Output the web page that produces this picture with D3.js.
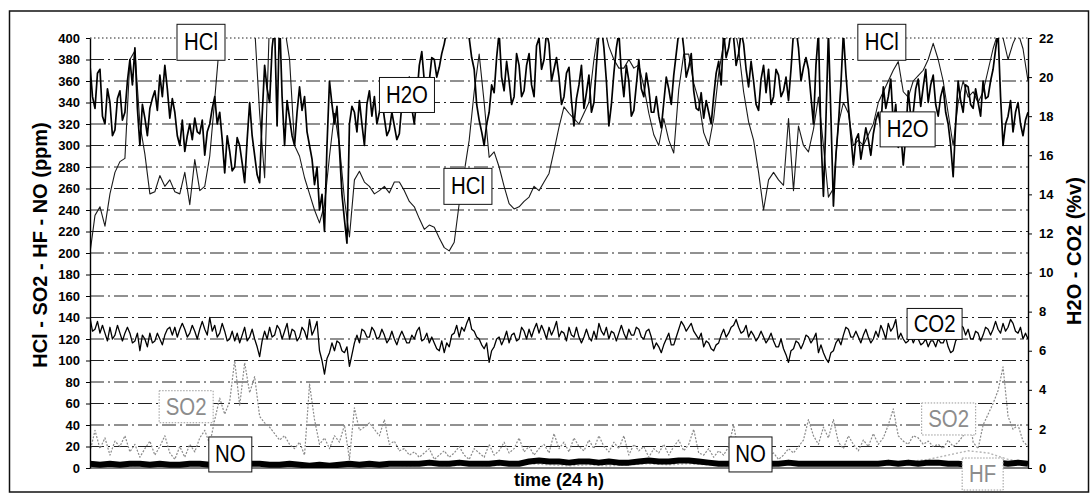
<!DOCTYPE html>
<html>
<head>
<meta charset="utf-8">
<script src="https://cdn.jsdelivr.net/npm/d3@7"></script>
<style>
  body { margin: 0; background: #fff; }
  text { font-family: 'Liberation Sans', Arial, sans-serif; }
</style>
</head>
<body>
<div id="chart"></div>
<script>
// values, evenly spaced over the 24 h
// H2O in %v (right axis)
const h2oValues = [
  20.6, 19.0, 18.4, 20.2, 20.4, 18.0, 17.6, 19.4, 18.7, 17.0,
  17.3, 18.9, 19.3, 17.8, 18.2, 19.8, 20.9, 19.6, 21.5, 18.4,
  16.5, 18.6, 17.9, 17.0, 18.4, 18.9, 19.3, 18.3, 20.1, 19.0,
  20.6, 19.4, 17.9, 18.9, 18.2, 17.0, 16.5, 17.8, 16.2, 17.0,
  17.6, 16.8, 17.9, 17.2, 17.1, 17.8, 16.0, 17.2, 17.6, 18.4,
  19.0, 17.6, 18.2, 16.8, 15.1, 17.0, 16.2, 15.2, 15.4, 16.9,
  16.5, 15.6, 14.6, 16.8, 18.7, 17.0, 16.0, 15.0, 14.6, 18.0,
  20.6, 19.4, 18.7, 21.5, 22.6, 17.5, 23.1, 19.0, 16.5, 18.8,
  17.9, 17.0, 16.5, 18.2, 19.5, 18.3, 19.0, 17.2, 16.5, 15.8,
  14.5, 15.4, 13.2, 14.0, 12.1, 16.5, 19.8, 18.6, 17.6, 18.5,
  16.3, 14.0, 12.7, 11.5, 17.6, 18.5, 18.2, 17.2, 18.8, 17.6,
  16.5, 18.6, 19.3, 18.0, 19.0, 17.6, 18.2, 18.9, 17.9, 17.0,
  17.3, 18.2, 17.5, 16.8, 17.1, 18.6, 19.8, 18.6, 20.0, 18.4,
  17.6, 19.0, 20.6, 21.3, 19.8, 18.6, 19.8, 21.0, 20.9, 20.0,
  20.5, 21.2, 21.7, 22.4, 22.6, 22.9, 22.8, 22.9, 22.6, 22.8,
  22.7, 22.5, 22.0, 21.0, 20.4, 18.6, 17.8, 17.2, 16.5, 17.6,
  18.2, 19.6, 19.2, 21.0, 22.3, 20.0, 19.3, 20.8, 19.8, 18.6,
  19.0, 21.2, 20.6, 19.0, 19.3, 20.6, 21.2, 19.6, 19.0, 21.6,
  22.0, 20.4, 20.9, 22.3, 21.7, 19.8, 20.4, 21.0, 20.0, 18.6,
  19.0, 20.2, 20.5, 18.8, 17.5, 18.9, 19.6, 20.6, 18.4, 19.2,
  20.1, 18.2, 18.7, 20.6, 22.3, 22.6, 21.5, 19.8, 17.5, 18.6,
  20.2, 21.5, 22.3, 20.2, 19.0, 20.6, 19.8, 18.0, 18.3, 19.6,
  20.9, 19.4, 19.0, 20.2, 19.4, 18.2, 18.2, 19.0, 18.0, 17.4,
  18.7, 20.0, 19.4, 18.6, 20.1, 21.2, 22.3, 22.6, 21.5, 20.0,
  20.5, 21.2, 19.3, 18.4, 18.3, 19.2, 17.9, 18.8, 18.2, 17.6,
  19.0, 20.2, 20.8, 19.6, 22.3, 21.0, 21.5, 22.4, 22.0, 20.6,
  21.2, 22.3, 21.7, 20.4, 19.5, 20.8, 19.8, 18.6, 18.3, 19.9,
  20.6, 19.2, 20.4, 18.6, 19.0, 20.4, 20.1, 19.0, 19.3, 20.0,
  18.8, 20.4, 22.3, 22.5, 21.5, 19.8, 20.5, 21.0, 20.4, 19.0,
  17.6, 20.6, 22.3, 17.0, 13.9, 17.8, 22.3, 18.0, 13.4, 16.0,
  17.6, 19.6, 22.3, 20.2, 18.5, 17.0, 15.5, 16.8, 17.1, 15.8,
  16.6, 17.4, 16.8, 16.0, 17.1, 17.8, 18.2, 17.4, 19.5, 18.4,
  19.0, 19.9, 17.6, 18.6, 16.4, 17.2, 15.5, 17.0, 19.3, 18.0,
  18.2, 19.4, 19.9, 18.5, 19.5, 20.4, 18.7, 19.6, 20.1, 18.6,
  18.0, 19.0, 19.5, 18.2, 17.6, 16.5, 14.9, 17.6, 19.8, 18.8,
  18.2, 19.6, 19.5, 18.6, 18.4, 19.4, 18.7, 18.0, 19.8, 18.9,
  19.0, 19.8, 20.4, 21.4, 22.3, 19.0, 16.5, 17.6, 18.0, 18.8,
  17.2, 18.2, 18.7, 17.6, 17.0, 17.8, 18.2
]

// CO2 in %v (right axis)
const co2Values = [
  7.7, 7.0, 7.1, 7.5, 6.9, 7.3, 6.9, 6.5, 7.2, 6.6,
  6.8, 7.3, 6.9, 6.5, 6.9, 7.2, 6.9, 6.4, 6.5, 6.9,
  6.0, 6.8, 6.6, 6.2, 6.9, 6.4, 6.5, 6.9, 6.6, 6.3,
  6.8, 7.1, 7.2, 6.8, 7.2, 6.7, 7.1, 7.4, 7.1, 6.7,
  6.9, 7.3, 7.0, 6.6, 7.1, 7.5, 7.1, 6.8, 7.7, 7.0,
  7.3, 6.7, 6.9, 7.4, 7.0, 6.5, 6.6, 7.0, 6.5, 6.9,
  6.4, 6.8, 7.2, 6.5, 6.7, 7.1, 6.6, 6.2, 5.7, 6.5,
  7.0, 6.6, 7.2, 6.7, 6.8, 7.3, 7.1, 6.6, 7.0, 7.4,
  6.6, 7.1, 7.0, 6.5, 6.7, 7.2, 7.0, 6.6, 7.6, 6.8,
  7.1, 7.5, 6.0, 5.5, 4.8, 5.6, 5.9, 6.4, 6.0, 6.5,
  6.4, 6.0, 5.9, 6.2, 5.2, 5.8, 6.4, 6.8, 6.4, 7.1,
  7.0, 6.7, 6.7, 7.2, 7.0, 6.6, 6.7, 7.1, 6.8, 6.4,
  6.6, 7.0, 6.6, 6.3, 6.7, 7.0, 6.7, 6.4, 6.4, 6.8,
  6.6, 7.0, 7.2, 6.5, 6.6, 6.9, 6.4, 6.7, 6.4, 6.1,
  6.0, 6.5, 5.9, 6.4, 6.2, 6.8, 6.9, 7.3, 6.7, 7.2,
  7.0, 7.4, 7.7, 7.1, 7.0, 6.7, 6.6, 6.3, 6.1, 6.4,
  5.4, 6.0, 6.2, 6.6, 6.7, 6.3, 6.6, 7.0, 6.4, 6.8,
  6.9, 6.5, 6.6, 7.2, 7.0, 6.6, 7.1, 6.7, 7.1, 7.4,
  6.9, 7.3, 7.0, 6.6, 7.2, 6.8, 7.1, 7.5, 6.7, 7.0,
  6.9, 6.5, 7.2, 6.8, 6.7, 7.2, 6.7, 6.4, 6.7, 7.1,
  6.7, 6.5, 7.0, 6.6, 7.4, 7.0, 6.8, 7.2, 6.6, 7.0,
  6.9, 6.5, 6.9, 7.3, 6.9, 6.6, 7.1, 6.8, 6.8, 7.2,
  7.1, 6.7, 6.6, 7.0, 7.1, 6.7, 6.1, 6.4, 6.2, 5.9,
  6.3, 6.6, 6.9, 6.3, 6.3, 6.7, 7.1, 7.5, 7.3, 7.0,
  7.2, 7.4, 7.0, 6.8, 6.6, 6.9, 6.2, 6.5, 6.4, 6.1,
  6.0, 6.3, 6.4, 6.8, 7.1, 6.7, 6.9, 7.2, 7.3, 7.6,
  7.2, 6.9, 7.0, 7.3, 6.7, 7.0, 6.8, 6.5, 6.7, 7.0,
  6.7, 6.4, 6.6, 6.9, 6.5, 6.2, 6.2, 6.6, 6.1, 5.8,
  5.4, 6.0, 6.1, 6.5, 6.4, 6.1, 6.4, 6.8, 6.7, 6.4,
  6.6, 6.9, 5.9, 6.3, 5.9, 5.6, 5.4, 5.9, 6.0, 6.4,
  6.6, 6.3, 6.8, 7.2, 7.1, 6.7, 6.7, 7.0, 6.7, 6.4,
  6.8, 7.1, 6.7, 6.4, 6.6, 7.0, 6.7, 7.3, 7.0, 6.6,
  7.4, 7.0, 7.2, 7.6, 6.6, 6.9, 6.6, 6.4, 6.5, 6.8,
  6.4, 6.7, 6.6, 6.3, 6.4, 6.6, 6.2, 6.5, 6.5, 6.2,
  6.6, 6.4, 6.4, 6.7, 6.2, 5.9, 6.0, 6.5, 6.7, 7.3,
  7.2, 6.8, 7.1, 6.6, 6.6, 7.0, 6.9, 6.5, 6.8, 7.2,
  7.1, 6.8, 7.1, 7.5, 7.1, 6.9, 7.4, 7.0, 7.2, 7.6,
  7.4, 7.0, 6.9, 7.2, 6.6, 6.9, 6.6
]

// HCl in ppm (left axis), above 400 runs off the plot
const hclValues = [
  200, 235, 243, 225, 255, 275, 285, 288, 380, 388,
  320, 292, 255, 257, 272, 262, 268, 257, 255, 275,
  245, 287, 258, 262, 290, 343, 398, 430, 440, 440,
  430, 430, 420, 410, 330, 270, 420, 430, 420, 410,
  380, 300, 290, 270, 255, 240, 228, 245, 290, 330,
  300, 250, 215, 268, 276, 266, 262, 255, 258, 262,
  256, 266, 266, 258, 248, 243, 232, 222, 226, 224,
  214, 205, 202, 210, 246, 275, 305, 350, 385, 340,
  289, 294, 280, 262, 246, 241, 243, 248, 252, 262,
  258, 266, 274, 295, 317, 336, 330, 325, 320, 330,
  340, 380, 410, 410, 392, 380, 372, 372, 380, 372,
  375, 355, 330, 310, 300, 325, 305, 293, 352, 385,
  385, 358, 342, 312, 300, 325, 367, 395, 410, 415,
  390, 350, 322, 305, 275, 240, 268, 275, 268, 263,
  325, 258, 318, 300, 294, 315, 345, 300, 252, 260,
  320, 340, 330, 300, 305, 300, 310, 320, 340, 350,
  360, 370, 378, 350, 345, 360, 365, 370, 380, 395,
  380, 360, 330, 300, 340, 360, 345, 350, 340, 350,
  370, 390, 405, 400, 380, 395, 405, 390, 360
]

// SO2 in ppm
const so2Values = [
  15, 35, 18, 28, 12, 25, 20, 30, 15, 22,
  10, 18, 25, 12, 20, 30, 14, 8, 20, 10,
  22, 15, 28, 35, 22, 45, 65, 50, 62, 100,
  58, 98, 70, 85, 48, 42, 38, 32, 26, 30,
  22, 18, 24, 12, 78, 45, 22, 28, 18, 30,
  24, 40, 8, 56, 35, 38, 42, 36, 30, 45,
  22, 25, 16, 18, 12, 15, 10, 14, 18, 8,
  12, 16, 10, 14, 20, 12, 8, 18, 14, 10,
  22, 12, 16, 24, 14, 18, 28, 15, 20, 12,
  18, 22, 14, 32, 18, 24, 15, 28, 20, 16,
  26, 18, 30, 20, 15, 24, 18, 30, 12, 22,
  16, 20, 10, 18, 14, 22, 12, 20, 26, 16,
  22, 36, 14, 12, 18, 10, 16, 12, 20, 40,
  14, 18, 10, 15, 12, 18, 10, 14, 8, 12,
  18, 14, 20, 26, 45, 30, 22, 38, 28, 45,
  24, 18, 30, 22, 16, 26, 20, 32, 22, 28,
  40, 55, 30, 25, 22, 30, 28, 22, 25, 20,
  22, 18, 26, 20, 24, 30, 58, 24, 18, 40,
  50, 60, 72, 94, 48, 36, 40, 25, 20
]

// NO in ppm
const noValues = [
  4, 3, 4, 3, 4, 4, 3, 4, 3, 3,
  4, 4, 3, 4, 3, 4, 4, 4, 3, 3,
  4, 3, 2, 3, 2, 3, 4, 3, 4, 3,
  4, 4, 4, 4, 5, 4, 4, 5, 4, 4,
  4, 5, 4, 4, 6, 7, 6, 6, 5, 6,
  6, 5, 6, 5, 5, 6, 7, 6, 6, 7,
  7, 6, 5, 4, 4, 4, 4, 4, 4, 4,
  5, 4, 4, 4, 4, 4, 4, 4, 4, 4,
  5, 4, 5, 4, 5, 5, 4, 4, 3, 4,
  4, 5, 4, 5, 4
]

// HF in ppm
const hfValues = [
  2, 3, 2, 3, 2, 3, 2, 3, 4, 3,
  2, 3, 2, 3, 2, 3, 2, 3, 2, 3,
  2, 3, 4, 3, 2, 3, 2, 3, 4, 3,
  4, 3, 2, 3, 2, 3, 4, 3, 4, 3,
  5, 6, 8, 12, 16, 14, 8, 5
]

const leftTicks = d3.range(0, 401, 20)
const rightTicks = d3.range(0, 23, 2)

// label boxes, placed in hours / ppm
const labelNames = ['HCl', 'H2O', 'HCl', 'HCl', 'H2O', 'CO2', 'SO2', 'NO', 'NO', 'SO2', 'HF']
const labelHours = [2.84, 8.11, 9.67, 20.26, 20.92, 21.61, 2.46, 3.59, 16.9, 21.97, 22.84]
const labelPpm = [396, 347, 262, 396, 315, 134, 57, 12.6, 12.6, 45.6, -5.6]

const margin = { top: 38, left: 90, right: 62, bottom: 25 }
const width = 1090 - margin.left - margin.right
const height = 493 - margin.top - margin.bottom

const outer = d3
  .select('#chart')
  .append('svg')
  .attr('width', 1090)
  .attr('height', 493)

// scanned page frame
outer
  .append('rect')
  .attr('x', 9.5)
  .attr('y', 11)
  .attr('width', 1079)
  .attr('height', 481)
  .attr('fill', 'none')
  .attr('stroke', '#111')
  .attr('stroke-width', 1.5)

const svg = outer
  .append('g')
  .attr('transform', 'translate(' + margin.left + ',' + margin.top + ')')

const xPositionScale = d3.scaleLinear().domain([0, 24]).range([0, width])
const yLeftScale = d3.scaleLinear().domain([0, 400]).range([height, 0])
const yRightScale = d3.scaleLinear().domain([0, 22]).range([height, 0])

svg
  .append('clipPath')
  .attr('id', 'plot-clip')
  .append('rect')
  .attr('x', 0)
  .attr('y', 0)
  .attr('width', width)
  .attr('height', height)

// gridlines
svg
  .selectAll('.grid')
  .data(leftTicks.filter(d => d > 0))
  .enter()
  .append('line')
  .attr('class', 'grid')
  .attr('x1', 0)
  .attr('x2', width)
  .attr('y1', d => yLeftScale(d))
  .attr('y2', d => yLeftScale(d))
  .attr('stroke', '#222')
  .attr('stroke-width', 1)
  .attr('stroke-dasharray', d => (d === 400 ? '1.5,2.5' : '14,4,2,4'))

function makeLine(values, yScale) {
  return d3
    .line()
    .x(function(d, i) {
      return xPositionScale((i * 24) / (values.length - 1))
    })
    .y(function(d) {
      return yScale(d)
    })(values)
}

const series = [
  { values: hfValues, scale: yLeftScale, stroke: '#b5b5b5', width: 1.4, dash: '2,2' },
  { values: noValues, scale: yLeftScale, stroke: '#000', width: 6, dash: null },
  { values: so2Values, scale: yLeftScale, stroke: '#8a8a8a', width: 1.2, dash: '2,1.5' },
  { values: co2Values, scale: yRightScale, stroke: '#000', width: 1.3, dash: null },
  { values: hclValues, scale: yLeftScale, stroke: '#1a1a1a', width: 1.1, dash: null },
  { values: h2oValues, scale: yRightScale, stroke: '#000', width: 1.7, dash: null }
]

const plot = svg.append('g').attr('clip-path', 'url(#plot-clip)')

plot
  .selectAll('.series')
  .data(series)
  .enter()
  .append('path')
  .attr('class', 'series')
  .attr('d', d => makeLine(d.values, d.scale))
  .attr('fill', 'none')
  .attr('stroke', d => d.stroke)
  .attr('stroke-width', d => d.width)
  .attr('stroke-dasharray', d => d.dash)
  .attr('stroke-linejoin', 'round')

// axes
const yAxisLeft = d3
  .axisLeft(yLeftScale)
  .tickValues(leftTicks)
  .tickSize(4)
  .tickSizeOuter(0)
  .tickPadding(6)
svg
  .append('g')
  .attr('class', 'axis y-axis')
  .call(yAxisLeft)

const yAxisRight = d3
  .axisRight(yRightScale)
  .tickValues(rightTicks)
  .tickSize(4)
  .tickSizeOuter(0)
  .tickPadding(7)
svg
  .append('g')
  .attr('class', 'axis y-axis-right')
  .attr('transform', 'translate(' + width + ',0)')
  .call(yAxisRight)

svg
  .append('line')
  .attr('x1', 0)
  .attr('x2', width)
  .attr('y1', height)
  .attr('y2', height)
  .attr('stroke', '#000')

svg.selectAll('.axis path').attr('stroke', '#000').attr('stroke-width', 1.4)
svg.selectAll('.axis line').attr('stroke', '#000')
svg
  .selectAll('.axis text')
  .attr('font-size', 13)
  .attr('font-weight', 'bold')
  .attr('fill', '#000')
  .style('font-family', "'Liberation Sans', Arial, sans-serif")

// label boxes
const labels = labelNames.map((name, i) => {
  return { name: name, hour: labelHours[i], ppm: labelPpm[i] }
})

function boxStyle(name) {
  if (name === 'SO2' || name === 'HF') {
    return { stroke: '#9a9a9a', dash: '1.5,1.5', text: '#8c8c8c' }
  }
  return { stroke: '#111', dash: null, text: '#000' }
}

const boxW = { HCl: 48, H2O: 55, CO2: 55, SO2: 54, NO: 43, HF: 41 }
const boxH = { HCl: 36, H2O: 35, CO2: 31, SO2: 32, NO: 35, HF: 32 }

const labelGroups = svg
  .selectAll('.label-box')
  .data(labels)
  .enter()
  .append('g')
  .attr('class', 'label-box')
  .attr('transform', d => {
    return 'translate(' + xPositionScale(d.hour) + ',' + yLeftScale(d.ppm) + ')'
  })

labelGroups
  .append('rect')
  .attr('x', d => -boxW[d.name] / 2)
  .attr('y', d => -boxH[d.name] / 2)
  .attr('width', d => boxW[d.name])
  .attr('height', d => boxH[d.name])
  .attr('fill', '#fff')
  .attr('stroke', d => boxStyle(d.name).stroke)
  .attr('stroke-width', 1)
  .attr('stroke-dasharray', d => boxStyle(d.name).dash)

labelGroups
  .append('text')
  .attr('transform', 'scale(0.85,1)')
  .attr('text-anchor', 'middle')
  .attr('dy', 8)
  .attr('font-size', 24)
  .attr('fill', d => boxStyle(d.name).text)
  .text(d => d.name)

// axis titles
svg
  .append('text')
  .attr('x', width / 2)
  .attr('y', height + 18)
  .attr('text-anchor', 'middle')
  .attr('font-size', 18)
  .attr('font-weight', 'bold')
  .text('time (24 h)')

svg
  .append('text')
  .attr('transform', 'translate(' + (47 - margin.left) + ',' + (245 - margin.top) + ') rotate(-90)')
  .attr('text-anchor', 'middle')
  .attr('font-size', 20)
  .attr('font-weight', 'bold')
  .text('HCl - SO2 - HF - NO (ppm)')

svg
  .append('text')
  .attr('transform', 'translate(' + (1081 - margin.left) + ',' + (251 - margin.top) + ') rotate(-90)')
  .attr('text-anchor', 'middle')
  .attr('font-size', 20)
  .attr('font-weight', 'bold')
  .text('H2O - CO2 (%v)')
</script>
</body>
</html>
